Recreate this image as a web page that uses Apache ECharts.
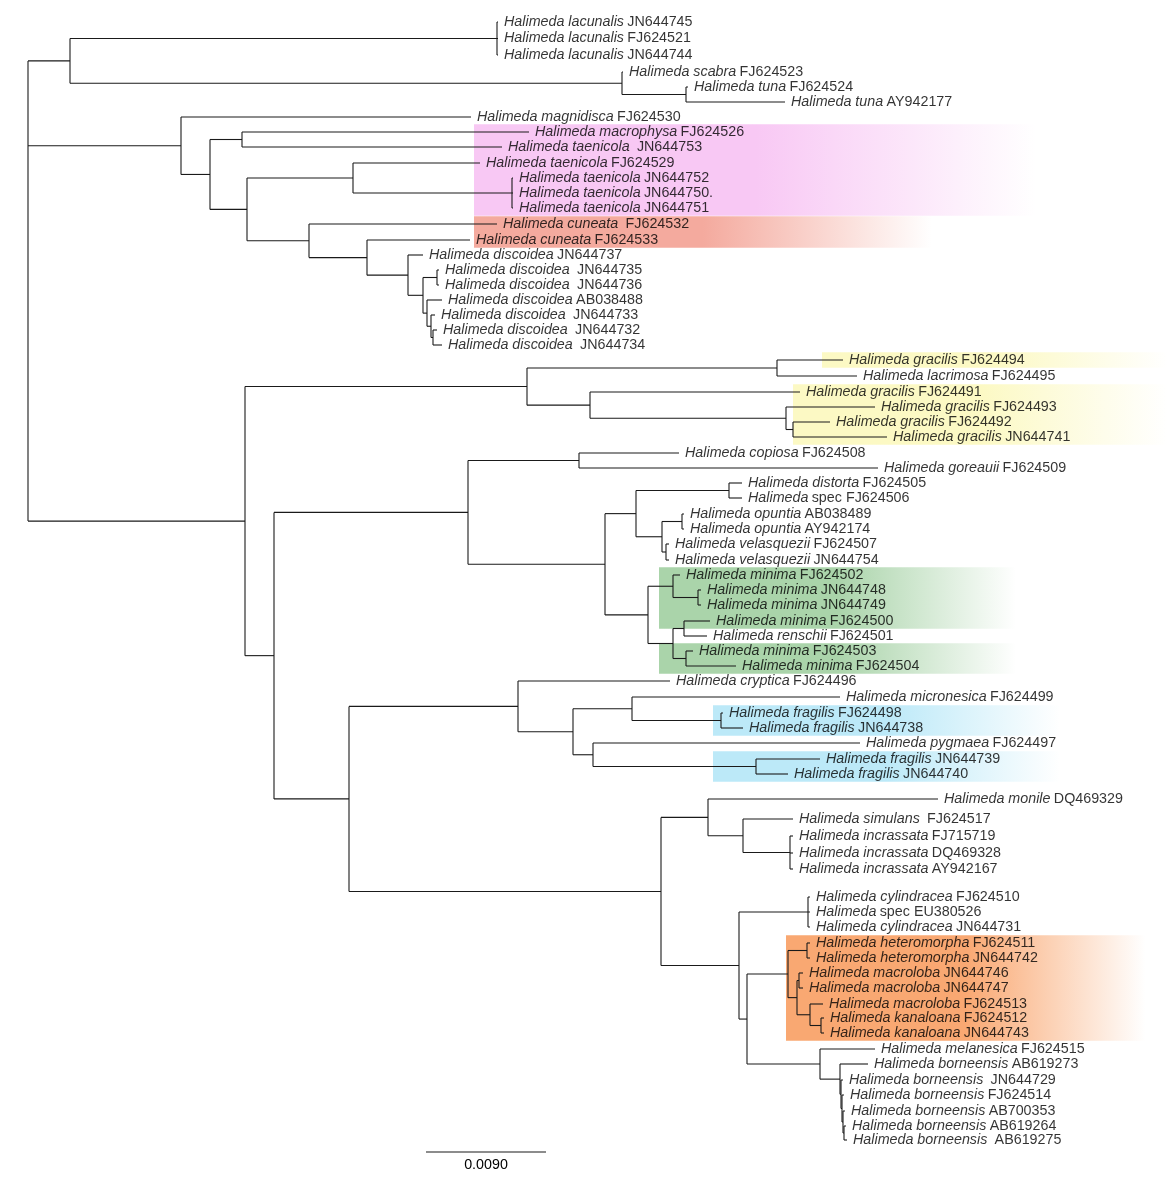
<!DOCTYPE html>
<html><head><meta charset="utf-8">
<script src="https://cdn.jsdelivr.net/npm/echarts@6/dist/echarts.min.js"></script>
<style>html,body{margin:0;padding:0;background:#fff}#chart{width:1170px;height:1180px}</style>
</head><body><div id="chart"></div>
<script>
// ---------- DATA ----------
// internal nodes: [id, parent id, depth from root (substitutions/site)]
const internalNodes = [
 ['root', null, 0],
 ['A','root',0.00315], ['L','A',0.035175], ['S','A',0.04455], ['T','S',0.04935],
 ['M','root',0.011475], ['N','M',0.01365], ['P','N',0.01605], ['Q','N',0.016425],
 ['R','Q',0.024375], ['T2','R',0.0363], ['U','Q',0.021075], ['V','U',0.025425],
 ['W','V',0.0285], ['X','W',0.029625], ['Y','X',0.030675], ['Z','X',0.029925],
 ['Z2','Z',0.030225], ['Z3','Z2',0.030375],
 ['B','root',0.016275], ['G','B',0.037425], ['H','G',0.056175], ['I','G',0.04215],
 ['J','I',0.05685], ['K','J',0.057375],
 ['C','B',0.01845], ['D','C',0.033], ['F','D',0.041325], ['O','D',0.043275],
 ['O1','O',0.0456], ['O1a','O1',0.052575], ['O1b','O1',0.04755], ['Op','O1b',0.04905], ['Ve','O1b',0.04785],
 ['O2','O',0.0465], ['O2a','O2',0.048375], ['O2a2','O2a',0.05025], ['O2b','O2',0.048375],
 ['O2b1','O2b',0.0492], ['O2b2','O2b',0.04935],
 ['E','C',0.024075], ['E1','E',0.03675], ['E2','E1',0.040875], ['E3','E2',0.0453], ['E3b','E3',0.051975],
 ['E4','E2',0.042375], ['E4b','E4',0.0546],
 ['E5','E',0.047475], ['E6','E5',0.051], ['E7','E6',0.053625], ['E8','E7',0.05715],
 ['E9','E5',0.053325], ['E10','E9',0.0585], ['E11','E9',0.053925],
 ['E12','E11',0.057], ['E12a','E12',0.058425], ['E12b','E12',0.057675], ['Ma','E12b',0.057825],
 ['E12c','E12b',0.05865], ['Ka','E12c',0.059475],
 ['E13','E11',0.0594], ['E14','E13',0.0609], ['E15','E14',0.060975], ['E16','E15',0.06105],
 ['E17','E16',0.061125], ['E18','E17',0.0612]
];

// tips: [italic name, accession, parent id, depth from root, row]
const tips = [
 ['Halimeda lacunalis','JN644745','L',0.03525,22],
 ['Halimeda lacunalis','FJ624521','L',0.03525,38.5],
 ['Halimeda lacunalis','JN644744','L',0.03525,55],
 ['Halimeda scabra','FJ624523','S',0.044625,72],
 ['Halimeda tuna','FJ624524','T',0.0495,87],
 ['Halimeda tuna','AY942177','T',0.056775,102],
 ['Halimeda magnidisca','FJ624530','M',0.033225,117],
 ['Halimeda macrophysa','FJ624526','P',0.037575,132],
 ['Halimeda taenicola',' JN644753','P',0.03555,147],
 ['Halimeda taenicola','FJ624529','R',0.0339,163],
 ['Halimeda taenicola','JN644752','T2',0.036375,178],
 ['Halimeda taenicola','JN644750.','T2',0.036375,193],
 ['Halimeda taenicola','JN644751','T2',0.036375,208],
 ['Halimeda cuneata',' FJ624532','U',0.035175,224],
 ['Halimeda cuneata','FJ624533','V',0.03315,240],
 ['Halimeda discoidea','JN644737','W',0.029625,255],
 ['Halimeda discoidea',' JN644735','Y',0.030825,270],
 ['Halimeda discoidea',' JN644736','Y',0.030825,285],
 ['Halimeda discoidea','AB038488','Z',0.03105,300],
 ['Halimeda discoidea',' JN644733','Z2',0.030525,315],
 ['Halimeda discoidea',' JN644732','Z3',0.030675,330],
 ['Halimeda discoidea',' JN644734','Z3',0.03105,345],
 ['Halimeda gracilis','FJ624494','H',0.061125,360],
 ['Halimeda lacrimosa','FJ624495','H',0.062175,376],
 ['Halimeda gracilis','FJ624491','I',0.0579,392],
 ['Halimeda gracilis','FJ624493','J',0.063525,407],
 ['Halimeda gracilis','FJ624492','K',0.06015,422],
 ['Halimeda gracilis','JN644741','K',0.064425,437],
 ['Halimeda copiosa','FJ624508','F',0.048825,453],
 ['Halimeda goreauii','FJ624509','F',0.06375,468],
 ['Halimeda distorta','FJ624505','O1a',0.05355,483],
 ['Halimeda','spec FJ624506','O1a',0.05355,498],
 ['Halimeda opuntia','AB038489','Op',0.0492,514],
 ['Halimeda opuntia','AY942174','Op',0.0492,529],
 ['Halimeda velasquezii','FJ624507','Ve',0.048075,544],
 ['Halimeda velasquezii','JN644754','Ve',0.048075,560],
 ['Halimeda minima','FJ624502','O2a',0.0489,575],
 ['Halimeda minima','JN644748','O2a2',0.050475,590],
 ['Halimeda minima','JN644749','O2a2',0.050475,605],
 ['Halimeda minima','FJ624500','O2b1',0.05115,621],
 ['Halimeda renschii','FJ624501','O2b1',0.050925,636],
 ['Halimeda minima','FJ624503','O2b2',0.049875,651],
 ['Halimeda minima','FJ624504','O2b2',0.0531,666],
 ['Halimeda cryptica','FJ624496','E1',0.04815,681],
 ['Halimeda micronesica','FJ624499','E3',0.0609,697],
 ['Halimeda fragilis','FJ624498','E3b',0.052125,713],
 ['Halimeda fragilis','JN644738','E3b',0.053625,728],
 ['Halimeda pygmaea','FJ624497','E4',0.0624,743],
 ['Halimeda fragilis','JN644739','E4b',0.0594,759],
 ['Halimeda fragilis','JN644740','E4b',0.057,774],
 ['Halimeda monile','DQ469329','E6',0.06825,799],
 ['Halimeda simulans',' FJ624517','E7',0.057375,819],
 ['Halimeda incrassata','FJ715719','E8',0.057375,836],
 ['Halimeda incrassata','DQ469328','E8',0.057375,853],
 ['Halimeda incrassata','AY942167','E8',0.057375,869],
 ['Halimeda cylindracea','FJ624510','E10',0.05865,897],
 ['Halimeda','spec EU380526','E10',0.05865,912],
 ['Halimeda cylindracea','JN644731','E10',0.05865,927],
 ['Halimeda heteromorpha','FJ624511','E12a',0.05865,943],
 ['Halimeda heteromorpha','JN644742','E12a',0.05865,958],
 ['Halimeda macroloba','JN644746','Ma',0.058125,973],
 ['Halimeda macroloba','JN644747','Ma',0.058125,988],
 ['Halimeda macroloba','FJ624513','E12c',0.059625,1004],
 ['Halimeda kanaloana','FJ624512','Ka',0.0597,1018],
 ['Halimeda kanaloana','JN644743','Ka',0.0597,1033],
 ['Halimeda melanesica','FJ624515','E13',0.063525,1049],
 ['Halimeda borneensis','AB619273','E14',0.063,1064],
 ['Halimeda borneensis',' JN644729','E15',0.061125,1080],
 ['Halimeda borneensis','FJ624514','E16',0.0612,1095],
 ['Halimeda borneensis','AB700353','E17',0.061275,1111],
 ['Halimeda borneensis','AB619264','E18',0.06135,1126],
 ['Halimeda borneensis',' AB619275','E18',0.061425,1140]
];

// highlighted groups: [first accession, last accession, start depth, end depth, group]
const highlights = [
 ['FJ624526','JN644751',0.03345,0.0756,'pink'],
 ['FJ624532','FJ624533',0.03345,0.0678,'red'],
 ['FJ624494','FJ624494',0.05955,0.0855,'yellow'],
 ['FJ624491','JN644741',0.057375,0.0855,'yellow'],
 ['FJ624502','FJ624500',0.047325,0.0741,'green'],
 ['FJ624503','FJ624504',0.047325,0.0741,'green'],
 ['FJ624498','JN644738',0.051375,0.0774,'blue'],
 ['JN644739','JN644740',0.051375,0.0774,'blue'],
 ['FJ624511','JN644743',0.05685,0.0838,'orange']
];

const scaleBarValue = 0.009;
const scaleBarLabel = '0.0090';

// ---------- STYLES ----------
const groupColors = {
 pink:   [248,200,244],
 red:    [244,170,158],
 yellow: [252,249,196],
 green:  [170,212,170],
 blue:   [188,233,248],
 orange: [249,168,114]
};
const FONT = '"Liberation Sans", Arial, Helvetica, sans-serif';
const LINE = '#1a1a1a';

// ---------- TREE LAYOUT ----------
const nodes = {};
internalNodes.forEach(([id, p, d]) => { nodes[id] = {id, parent: p, depth: d, children: []}; });
tips.forEach((t, i) => { nodes['tip' + i] = {id: 'tip' + i, parent: t[2], depth: t[3], row: t[4], children: []}; });
Object.values(nodes).forEach(n => { if (n.parent) nodes[n.parent].children.push(n); });
function layout(n) {
  if (!n.children.length) return n.row;
  const ys = n.children.map(layout);
  n.minY = Math.min(...ys); n.maxY = Math.max(...ys);
  n.row = (n.minY + n.maxY) / 2;
  return n.row;
}
layout(nodes.root);

const segments = [];
Object.values(nodes).forEach(n => {
  if (n.parent) segments.push([nodes[n.parent].depth, n.row, n.depth, n.row]);
  if (n.children.length) segments.push([n.depth, n.minY, n.depth, n.maxY]);
});

const rowOf = {};
tips.forEach(t => { rowOf[t[1].trim().replace(/^spec /,'')] = t[4]; });
const HALF = 7.7;
const bandData = highlights.map(h => [h[2], rowOf[h[0]] - HALF, h[3], rowOf[h[1]] + HALF, h[4]]);

const labelData = tips.map(t => ({value: [t[3], t[4]], it: t[0], acc: t[1]}));

const chart = echarts.init(document.getElementById('chart'), null, {renderer: 'canvas'});
chart.setOption({
  animation: false,
  backgroundColor: '#fff',
  grid: {left: 0, right: 0, top: 0, bottom: 0},
  xAxis: {type: 'value', min: -0.0021, max: 0.08565, show: false},
  yAxis: {type: 'value', min: 0, max: 1180, inverse: true, show: false},
  series: [
    {
      type: 'custom', z: 1, silent: true,
      data: bandData,
      renderItem: (params, api) => {
        const p0 = api.coord([api.value(0), api.value(1)]);
        const p1 = api.coord([api.value(2), api.value(3)]);
        const c = groupColors[bandData[params.dataIndex][4]];
        const rgb = 'rgb(' + c.join(',') + ')';
        return {
          type: 'rect',
          shape: {x: p0[0], y: p0[1], width: p1[0] - p0[0], height: p1[1] - p0[1]},
          style: {fill: new echarts.graphic.LinearGradient(0, 0, 1, 0, [
            {offset: 0, color: rgb}, {offset: 0.5, color: rgb},
            {offset: 1, color: 'rgba(' + c.join(',') + ',0)'}])}
        };
      }
    },
    {
      type: 'custom', z: 2, silent: true,
      data: segments,
      renderItem: (params, api) => {
        const a = api.coord([api.value(0), api.value(1)]);
        const b = api.coord([api.value(2), api.value(3)]);
        return {type: 'line', shape: {x1: a[0], y1: a[1], x2: b[0], y2: b[1]},
          style: {stroke: LINE, lineWidth: 1.1}};
      }
    },
    {
      type: 'scatter', z: 3, silent: true,
      symbolSize: 0,
      data: labelData,
      label: {
        show: true, position: 'right', distance: 6,
        formatter: p => '{i|' + p.data.it + '} {n|' + p.data.acc + '}',
        rich: {
          i: {fontFamily: FONT, fontSize: 14.3, fontStyle: 'italic', color: '#000'},
          n: {fontFamily: FONT, fontSize: 14.3, color: '#000'}
        }
      },
      labelLayout: {hideOverlap: false}
    },
    {
      type: 'custom', z: 3, silent: true,
      data: [[0.02985, 1152, scaleBarValue]],
      renderItem: (params, api) => {
        const a = api.coord([api.value(0), api.value(1)]);
        const b = api.coord([api.value(0) + api.value(2), api.value(1)]);
        return {type: 'group', children: [
          {type: 'line', shape: {x1: a[0], y1: a[1], x2: b[0], y2: b[1]}, style: {stroke: LINE, lineWidth: 1.2}},
          {type: 'text', x: (a[0] + b[0]) / 2, y: a[1] + 6,
           style: {text: scaleBarLabel, fontFamily: FONT, fontSize: 14.3, fill: '#000', align: 'center', verticalAlign: 'top'}}
        ]};
      }
    }
  ]
});
</script></body></html>
